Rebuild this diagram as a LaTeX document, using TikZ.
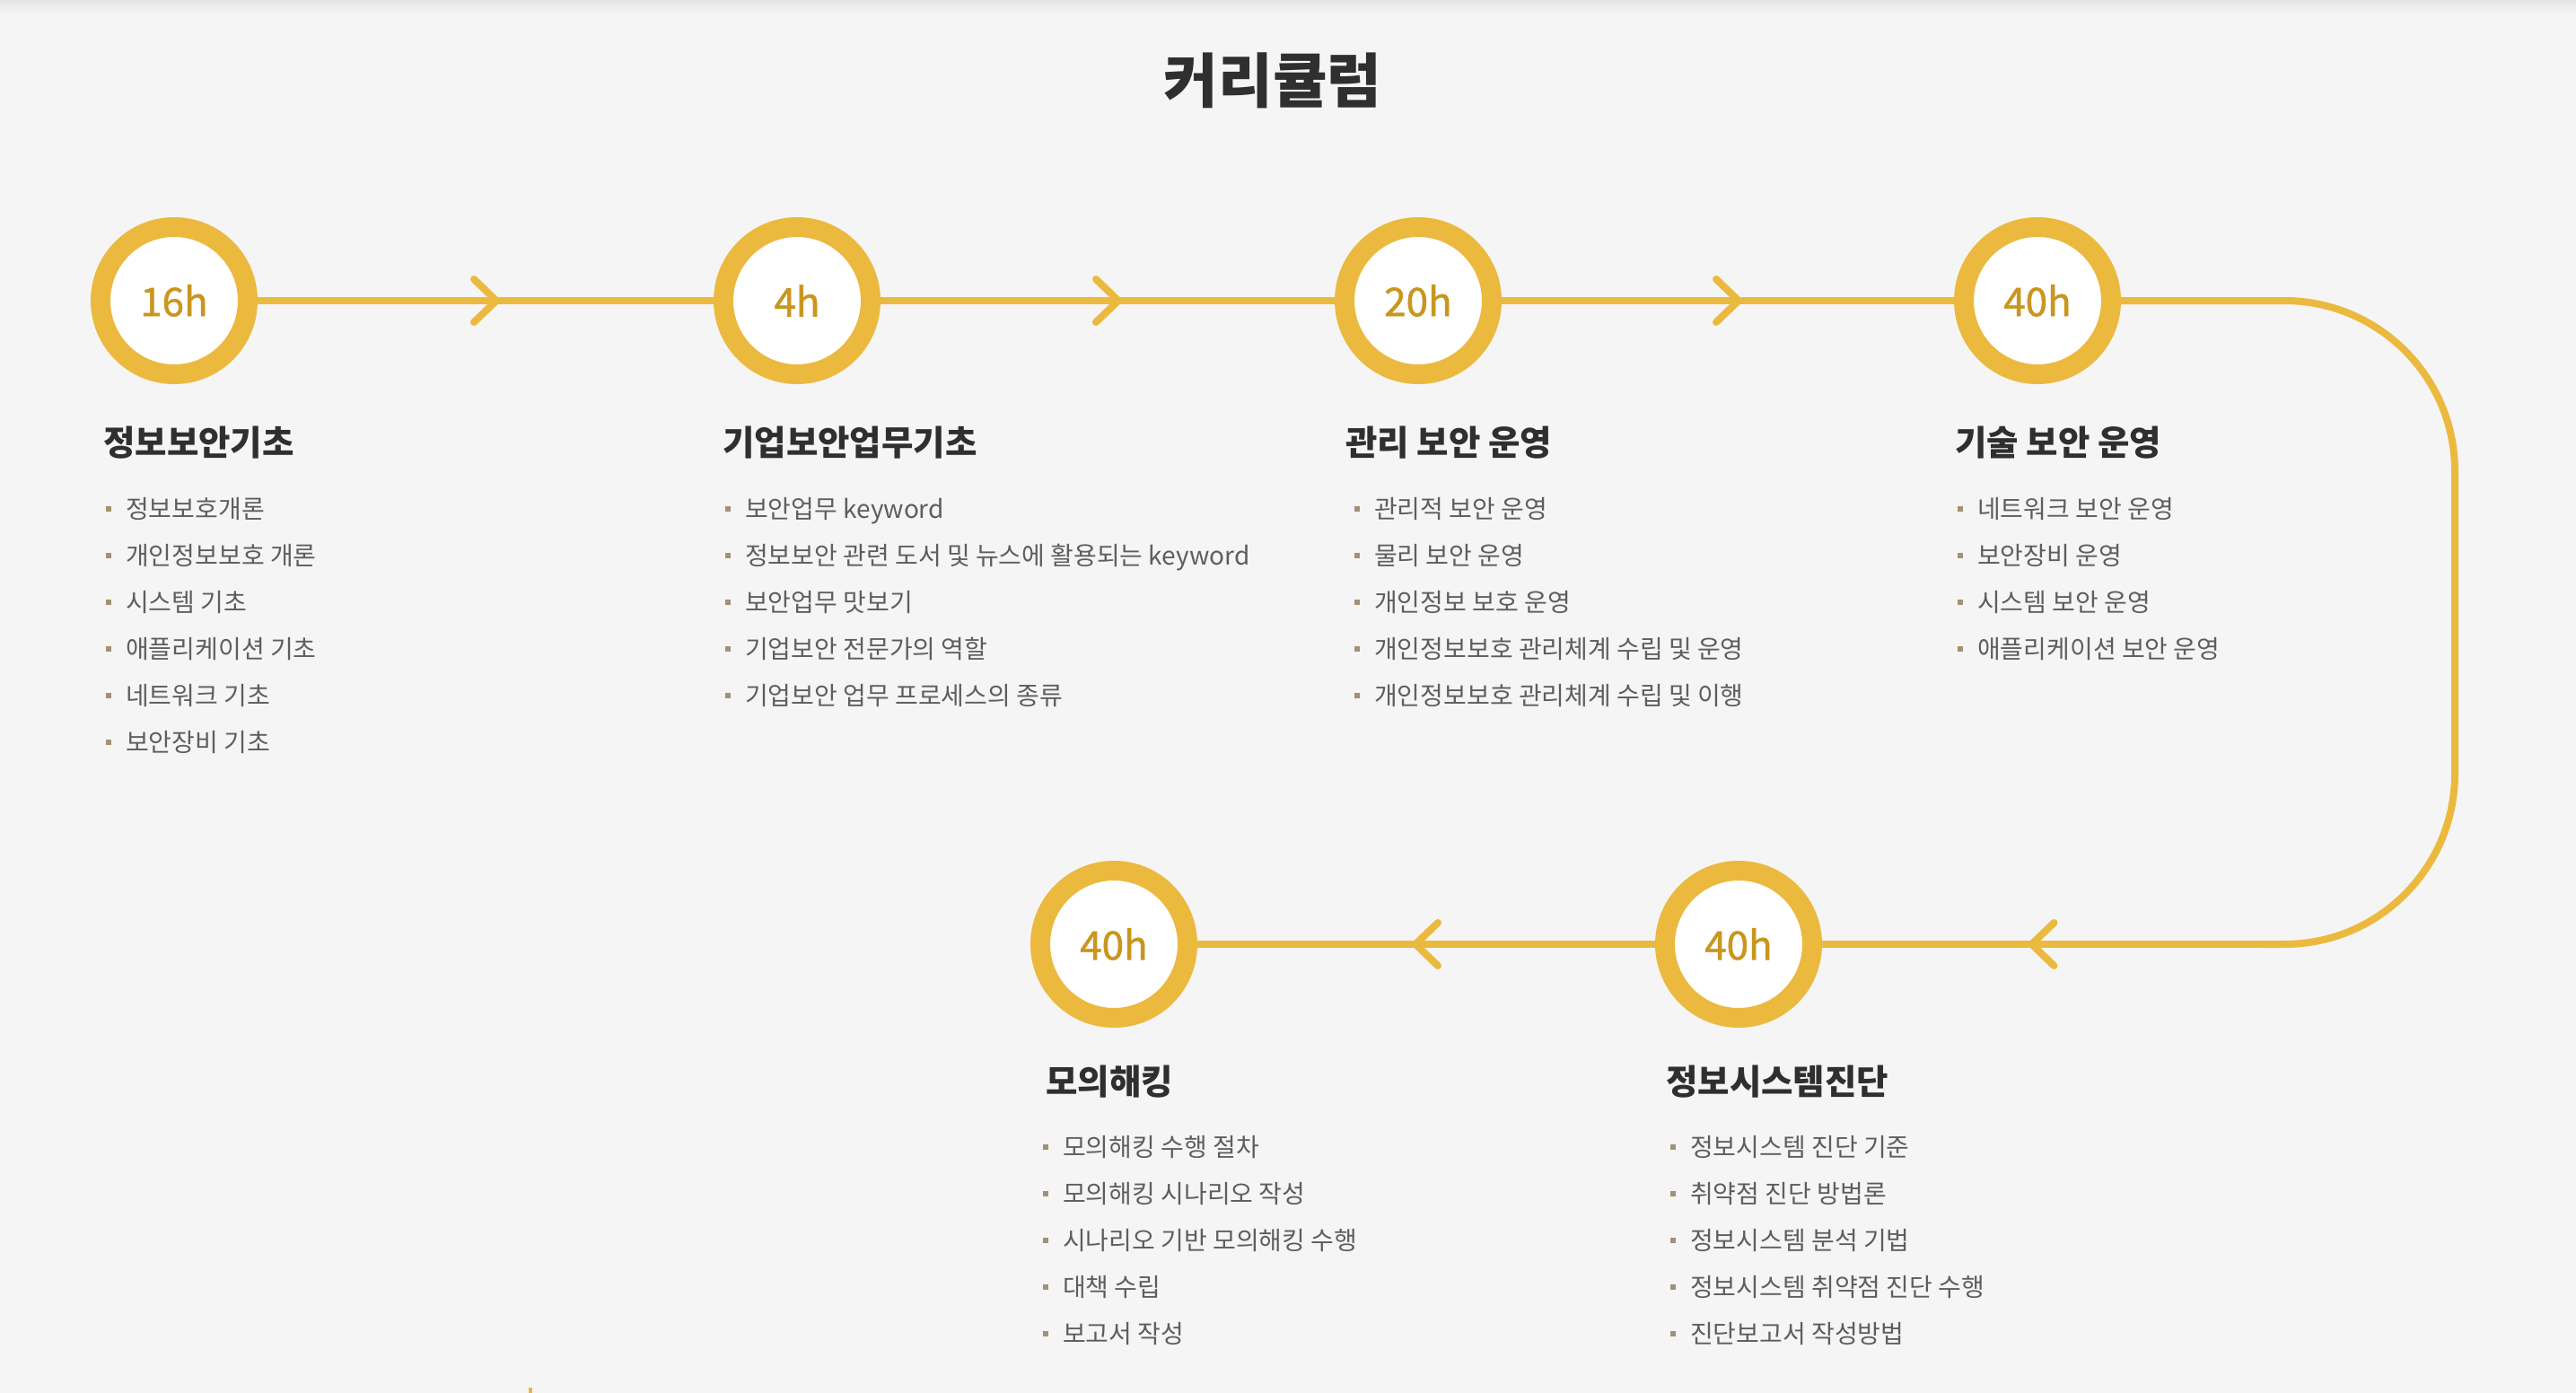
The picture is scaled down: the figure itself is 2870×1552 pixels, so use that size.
\documentclass[tikz,border=0pt]{standalone}
\usepackage{fontspec}
\newfontfamily\kr{Noto Sans CJK KR}
\newfontfamily\krlab[FakeBold=1.2]{Noto Sans CJK KR}
\usetikzlibrary{decorations.markings}
\definecolor{bg}{HTML}{F5F5F5}
\definecolor{topc}{HTML}{E4E4E4}
\definecolor{ringc}{HTML}{ECB93F}
\definecolor{labc}{HTML}{C9961F}
\definecolor{headc}{HTML}{2F2F2F}
\definecolor{itemc}{HTML}{5E5E5E}
\definecolor{bulc}{HTML}{A09272}
\tikzset{
  ring/.style={circle, draw=ringc, line width=22pt, fill=white, minimum size=164pt, inner sep=0pt,
    font=\krlab\fontsize{44}{48}\selectfont, text=labc},
  conn/.style={draw=ringc, line width=8pt},
  chevmark/.style={postaction={decorate}, decoration={markings, mark=at position 0.5 with
    {\draw[ringc, line width=8pt, line cap=round, line join=round] (-13,24) -- (12,0) -- (-13,-24);}}},
  heading/.style={anchor=west, inner sep=0pt, font=\kr\bfseries\fontsize{38.5}{43}\selectfont, text=headc},
  itemtext/.style={anchor=west, inner sep=0pt, font=\kr\fontsize{28}{32}\selectfont, text=itemc,
    text height=25pt, text depth=5pt},
  titletext/.style={inner sep=0pt, font=\kr\bfseries\fontsize{66}{72}\selectfont, text=headc}
}
\newcommand{\bul}{\textcolor{bulc}{\rule[7.5pt]{6pt}{6pt}}\hspace{16pt}}
\begin{document}
\begin{tikzpicture}[x=1pt,y=-1pt]
\fill[bg] (0,0) rectangle (2870,1552);
\useasboundingbox (0,0) rectangle (2870,1552);
\shade[top color=topc, bottom color=bg] (0,0) rectangle (2870,14);

\node[titletext] (title) at (1418,90) {커리큘럼};

% circles
\node[ring] (c1) at (194,335) {16h};
\node[ring] (c2) at (888,335) {4h};
\node[ring] (c3) at (1580,335) {20h};
\node[ring] (c4) at (2270,335) {40h};
\node[ring] (c5) at (1241,1052) {40h};
\node[ring] (c6) at (1937,1052) {40h};
\coordinate (turn) at (2521,1052);

% connectors
\draw[conn, chevmark] (c1) -- (c2);
\draw[conn, chevmark] (c2) -- (c3);
\draw[conn, chevmark] (c3) -- (c4);
\draw[conn, rounded corners=190pt] (c4) -- (2735,335) -- (2735,1052) -- (turn);
\draw[conn, chevmark] (turn) -- (c6);
\draw[conn, chevmark] (c6) -- (c5);

% headings
\node[heading] (h1) at (115,493) {정보보안기초};
\node[heading] (h2) at (805,493) {기업보안업무기초};
\node[heading] (h3) at (1499,493) {관리 보안 운영};
\node[heading] (h4) at (2178,493) {기술 보안 운영};
\node[heading] (h5) at (1165,1205) {모의해킹};
\node[heading] (h6) at (1856,1205) {정보시스템진단};

% items
\foreach \t [count=\k] in {정보보호개론, 개인정보보호 개론, 시스템 기초, 애플리케이션 기초, 네트워크 기초, 보안장비 기초}
  \node[itemtext] (a\k) at (118,{567+52*(\k-1)}) {\bul\t};
\foreach \t [count=\k] in {보안업무 keyword, 정보보안 관련 도서 및 뉴스에 활용되는 keyword, 보안업무 맛보기, 기업보안 전문가의 역할, 기업보안 업무 프로세스의 종류}
  \node[itemtext] (b\k) at (808,{567+52*(\k-1)}) {\bul\t};
\foreach \t [count=\k] in {관리적 보안 운영, 물리 보안 운영, 개인정보 보호 운영, 개인정보보호 관리체계 수립 및 운영, 개인정보보호 관리체계 수립 및 이행}
  \node[itemtext] (d\k) at (1509,{567+52*(\k-1)}) {\bul\t};
\foreach \t [count=\k] in {네트워크 보안 운영, 보안장비 운영, 시스템 보안 운영, 애플리케이션 보안 운영}
  \node[itemtext] (e\k) at (2181,{567+52*(\k-1)}) {\bul\t};
\foreach \t [count=\k] in {모의해킹 수행 절차, 모의해킹 시나리오 작성, 시나리오 기반 모의해킹 수행, 대책 수립, 보고서 작성}
  \node[itemtext] (f\k) at (1162,{1278+52*(\k-1)}) {\bul\t};
\foreach \t [count=\k] in {정보시스템 진단 기준, 취약점 진단 방법론, 정보시스템 분석 기법, 정보시스템 취약점 진단 수행, 진단보고서 작성방법}
  \node[itemtext] (g\k) at (1861,{1278+52*(\k-1)}) {\bul\t};

\fill[ringc] (589,1546) rectangle (593,1552);
\end{tikzpicture}
\end{document}
